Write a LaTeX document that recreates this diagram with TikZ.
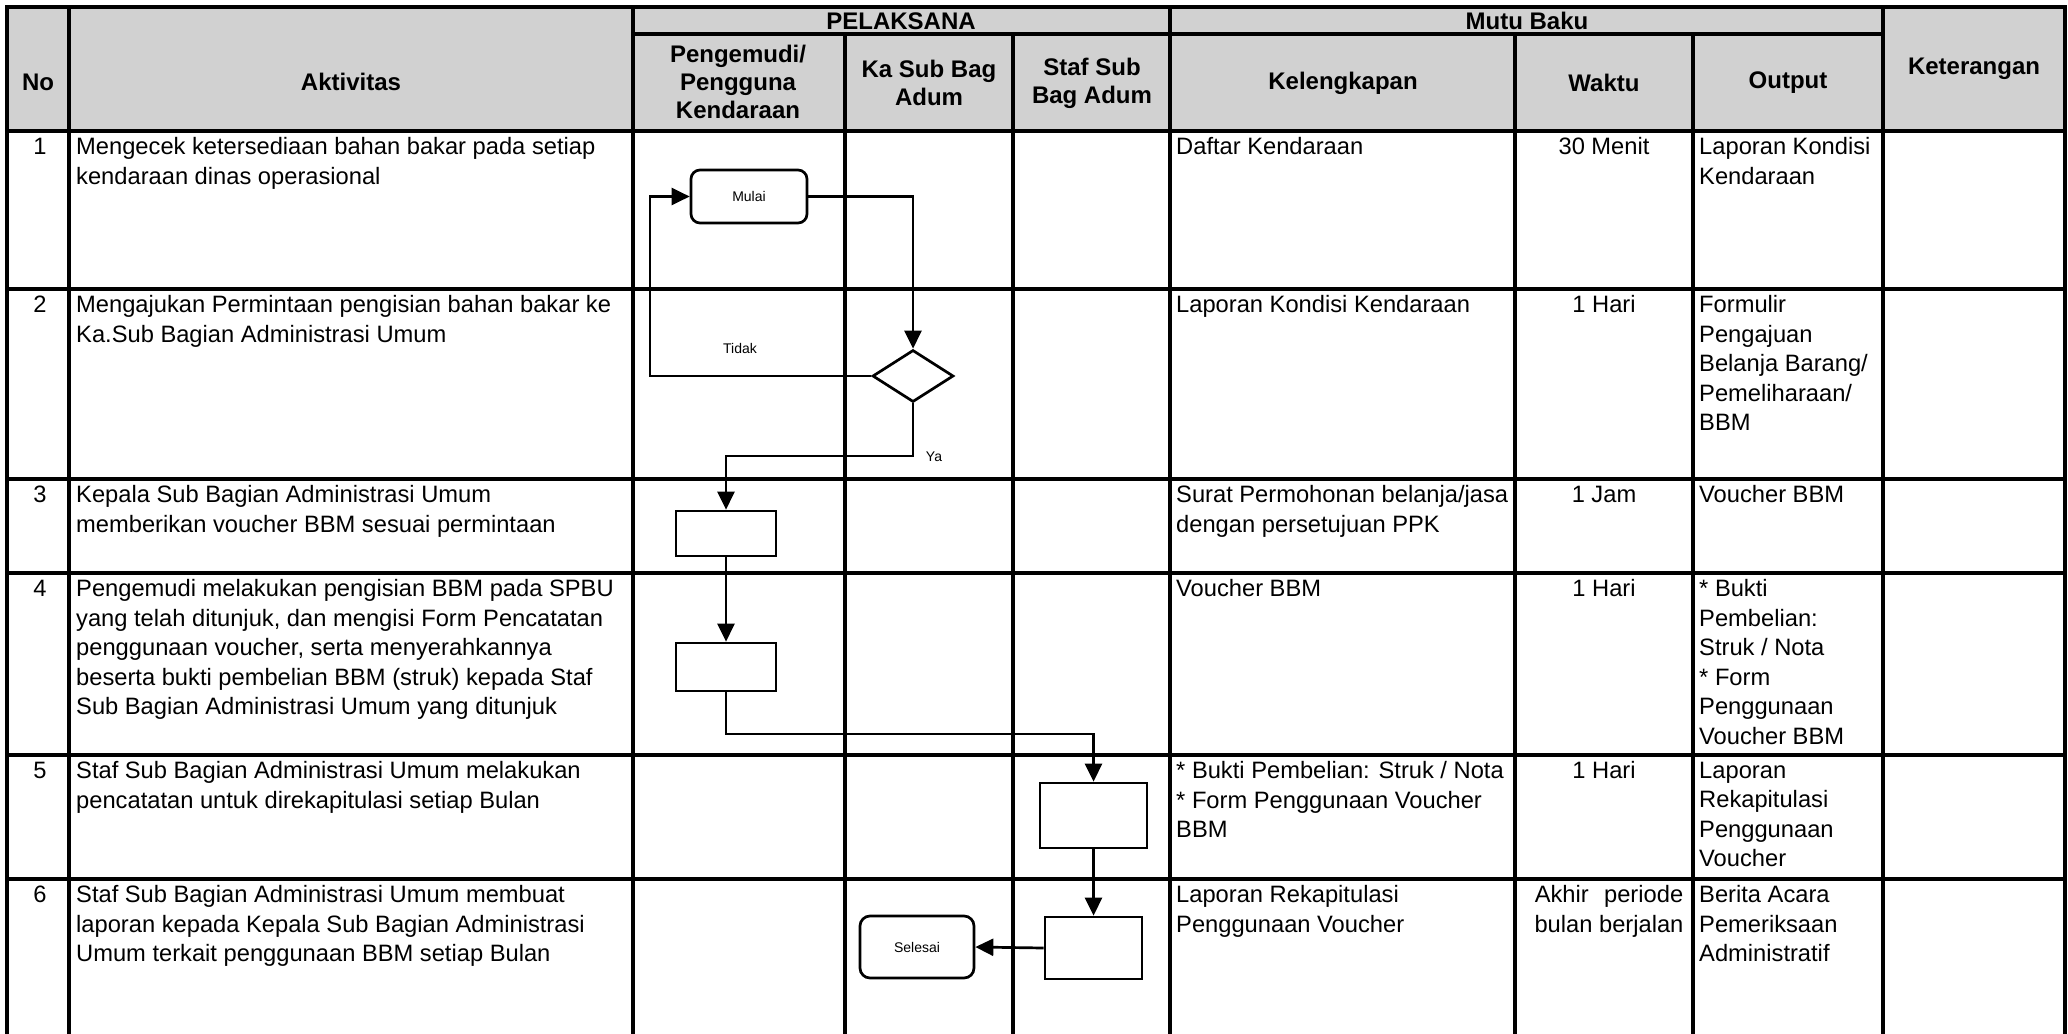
\documentclass[tikz,border=0pt]{standalone}
\usepackage{fontspec}
\setmainfont{Liberation Sans}
\usetikzlibrary{arrows.meta,shapes.geometric}
\begin{document}
\begin{tikzpicture}[x=1pt,y=-1pt,
  tline/.style={line width=3.2pt, line cap=rect},
  hdr/.style={font=\fontsize{24}{28}\selectfont\bfseries, align=center, inner sep=0pt},
  bodytxt/.style={anchor=north west, inner sep=0pt, align=left, font=\fontsize{23.7}{29.5}\selectfont},
  cbodytxt/.style={anchor=north, inner sep=0pt, align=center, font=\fontsize{23.7}{29.5}\selectfont},
  term/.style={draw, line width=2.7pt, rounded corners=9pt, inner sep=0pt, font=\fontsize{14}{16}\selectfont},
  proc/.style={draw, line width=2.7pt, inner sep=0pt},
  decision/.style={draw, diamond, line width=2.7pt, inner sep=0pt, minimum width=81pt, minimum height=52pt},
  flowarr/.style={line width=2.7pt, -{Triangle[length=18pt,width=17pt]}},
  lbl/.style={inner sep=0pt, font=\fontsize{14}{16}\selectfont}
]
\useasboundingbox (0,0) rectangle (2068,1033);
% header background
\fill[black!18] (7,7) rectangle (2065,131);
% horizontal lines
\draw[tline] (7,7) -- (2065,7);
\draw[tline] (633,34) -- (1883,34);
\draw[tline] (7,131) -- (2065,131);
\foreach \yy in {289,479,573,755,879} { \draw[tline] (7,\yy) -- (2065,\yy); }
% vertical lines
\foreach \xx in {7,69,633,1170,1883,2065} { \draw[tline] (\xx,7) -- (\xx,1033); }
\foreach \xx in {845,1013,1515,1693} { \draw[tline] (\xx,34) -- (\xx,1033); }

% header texts
\node[hdr] (hno) at (38,82) {No};
\node[hdr] (hakt) at (351,82) {Aktivitas};
\node[hdr] (hpel) at (901,21) {PELAKSANA};
\node[hdr] (hmutu) at (1527,21) {Mutu Baku};
\node[hdr] (hpeng) at (738,82) {Pengemudi/\\Pengguna\\Kendaraan};
\node[hdr] (hka) at (929,83) {Ka Sub Bag\\Adum};
\node[hdr] (hstaf) at (1092,83) {Staf Sub\\Bag Adum};
\node[hdr] (hkel) at (1343,83) {Kelengkapan};
\node[hdr] (hwak) at (1604,83) {Waktu};
\node[hdr] (hout) at (1788,83) {Output};
\node[hdr] (hket) at (1974,69) {Keterangan};

% row 1
\node[cbodytxt] (n1) at (40,137.5) {1};
\node[bodytxt] (a1) at (76,137.5) {Mengecek ketersediaan bahan bakar pada setiap\\kendaraan dinas operasional};
\node[bodytxt] (k1) at (1176,137.5) {Daftar Kendaraan};
\node[cbodytxt] (w1) at (1604,137.5) {30 Menit};
\node[bodytxt] (o1) at (1699,137.5) {Laporan Kondisi\\Kendaraan};
% row 2
\node[cbodytxt] (n2) at (40,295.5) {2};
\node[bodytxt] (a2) at (76,295.5) {Mengajukan Permintaan pengisian bahan bakar ke\\Ka.Sub Bagian Administrasi Umum};
\node[bodytxt] (k2) at (1176,295.5) {Laporan Kondisi Kendaraan};
\node[cbodytxt] (w2) at (1604,295.5) {1 Hari};
\node[bodytxt] (o2) at (1699,295.5) {Formulir\\Pengajuan\\Belanja Barang/\\Pemeliharaan/\\BBM};
% row 3
\node[cbodytxt] (n3) at (40,485.5) {3};
\node[bodytxt] (a3) at (76,485.5) {Kepala Sub Bagian Administrasi Umum\\memberikan voucher BBM sesuai permintaan};
\node[bodytxt] (k3) at (1176,485.5) {Surat Permohonan belanja/jasa\\dengan persetujuan PPK};
\node[cbodytxt] (w3) at (1604,485.5) {1 Jam};
\node[bodytxt] (o3) at (1699,485.5) {Voucher BBM};
% row 4
\node[cbodytxt] (n4) at (40,579.5) {4};
\node[bodytxt] (a4) at (76,579.5) {Pengemudi melakukan pengisian BBM pada SPBU\\yang telah ditunjuk, dan mengisi Form Pencatatan\\penggunaan voucher, serta menyerahkannya\\beserta bukti pembelian BBM (struk) kepada Staf\\Sub Bagian Administrasi Umum yang ditunjuk};
\node[bodytxt] (k4) at (1176,579.5) {Voucher BBM};
\node[cbodytxt] (w4) at (1604,579.5) {1 Hari};
\node[bodytxt] (o4) at (1699,579.5) {* Bukti\\Pembelian:\\Struk / Nota\\* Form\\Penggunaan\\Voucher BBM};
% row 5
\node[cbodytxt] (n5) at (40,761.5) {5};
\node[bodytxt] (a5) at (76,761.5) {Staf Sub Bagian Administrasi Umum melakukan\\pencatatan untuk direkapitulasi setiap Bulan};
\node[bodytxt] (k5) at (1176,761.5) {* Bukti Pembelian: Struk / Nota\\* Form Penggunaan Voucher\\BBM};
\node[cbodytxt] (w5) at (1604,761.5) {1 Hari};
\node[bodytxt] (o5) at (1699,761.5) {Laporan\\Rekapitulasi\\Penggunaan\\Voucher};
% row 6
\node[cbodytxt] (n6) at (40,885.5) {6};
\node[bodytxt] (a6) at (76,885.5) {Staf Sub Bagian Administrasi Umum membuat\\laporan kepada Kepala Sub Bagian Administrasi\\Umum terkait penggunaan BBM setiap Bulan};
\node[bodytxt] (k6) at (1176,885.5) {Laporan Rekapitulasi\\Penggunaan Voucher};
\node[cbodytxt] (w6) at (1609,885.5) {\makebox[148.4pt][s]{Akhir periode}\\bulan berjalan};
\node[bodytxt] (o6) at (1699,885.5) {Berita Acara\\Pemeriksaan\\Administratif};

% flowchart
\node[term, minimum width=116pt, minimum height=53pt] (mulai) at (749,196.5) {Mulai};
\node[decision] (dec) at (913,376) {};
\node[proc, minimum width=100pt, minimum height=45pt] (b3) at (726,533.5) {};
\node[proc, minimum width=100pt, minimum height=48pt] (b4) at (726,667) {};
\node[proc, minimum width=107pt, minimum height=65pt] (b5) at (1093.5,815.5) {};
\node[proc, minimum width=97pt, minimum height=62pt] (b6) at (1093.5,948) {};
\node[term, minimum width=114pt, minimum height=62pt, rounded corners=10pt] (sel) at (917,947) {Selesai};

\node[lbl] (tidak) at (740,348) {Tidak};
\node[lbl] (ya) at (934,457) {Ya};

\coordinate (tk) at (650,376);
\coordinate (yc) at (913,456);
\coordinate (c4) at (726,734);

\draw[flowarr] (mulai.east) -| (dec.north);
\draw[flowarr] (dec.west) -- (tk) |- (mulai.west);
\draw[flowarr] (dec.south) -- (yc) -| (b3.north);
\draw[flowarr] (b3.south) -- (b4.north);
\draw[flowarr] (b4.south) -- (c4) -| (b5.north);
\draw[flowarr] (b5.south) -- (b6.north);
\draw[flowarr] (b6.west) -- (sel.east);
\end{tikzpicture}
\end{document}
